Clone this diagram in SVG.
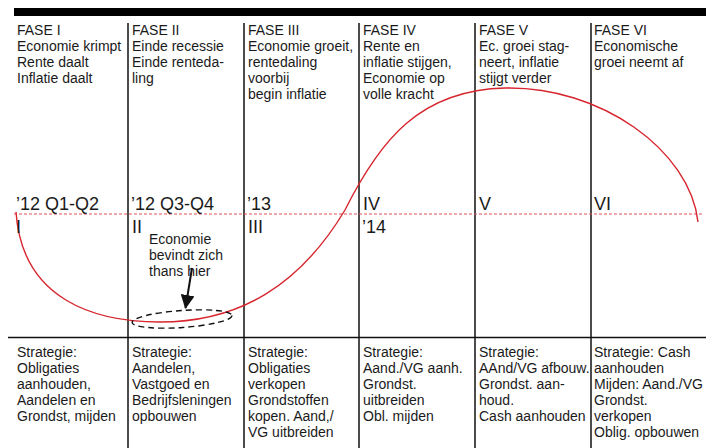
<svg xmlns="http://www.w3.org/2000/svg" width="706" height="448" viewBox="0 0 706 448">
<style>
  text { font-family: "Liberation Sans", Arial, sans-serif; fill: #1a1a1a; }
  .t { font-size: 14px; }
  .big { font-size: 18px; }
  .grid { stroke: #111; stroke-width: 1.5; fill: none; }
  .curve { stroke: #d7262e; stroke-width: 1.4; fill: none; }
  .zero { stroke: #e0505a; stroke-width: 1.2; stroke-dasharray: 3 2; fill: none; }
  .ell { stroke: #111; stroke-width: 1.4; stroke-dasharray: 6 4; fill: none; }
</style>
<defs>
  <marker id="ah" markerWidth="14" markerHeight="14" refX="13" refY="7" orient="auto" markerUnits="userSpaceOnUse" viewBox="0 0 14 14">
    <path d="M0,0 L14,7 L0,14 z" fill="#111"/>
  </marker>
</defs>
<rect width="706" height="448" fill="#fff"/>
<rect x="14" y="8" width="692" height="8" fill="#000"/>
<g id="grid">
  <line class="grid" x1="8" y1="337.5" x2="706" y2="337.5"/>
  <line class="grid" x1="128" y1="23" x2="128" y2="448"/>
  <line class="grid" x1="244" y1="23" x2="244" y2="448"/>
  <line class="grid" x1="359" y1="23" x2="359" y2="448"/>
  <line class="grid" x1="475" y1="23" x2="475" y2="448"/>
  <line class="grid" x1="591" y1="23" x2="591" y2="448"/>
</g>
<line class="zero" x1="14" y1="214" x2="704" y2="214"/>
<path class="curve" d="M16,212 C22,300 95,322 160,322 C240,322 300,285 345,210 C380,140 420,90 505,88 C600,86 690,150 698,222"/>
<g id="phase1">
  <text class="t" x="17" y="35">FASE I</text>
  <text class="t" x="17" y="51">Economie krimpt</text>
  <text class="t" x="17" y="67">Rente daalt</text>
  <text class="t" x="17" y="83">Inflatie daalt</text>
  <text class="big" x="16" y="210">’12 Q1-Q2</text>
  <text class="big" x="16" y="233">I</text>
  <text class="t" x="17" y="357">Strategie:</text>
  <text class="t" x="17" y="373">Obligaties</text>
  <text class="t" x="17" y="389">aanhouden,</text>
  <text class="t" x="17" y="405">Aandelen en</text>
  <text class="t" x="17" y="421">Grondst, mijden</text>
</g>
<g id="phase2">
  <text class="t" x="132" y="35">FASE II</text>
  <text class="t" x="132" y="51">Einde recessie</text>
  <text class="t" x="132" y="67">Einde renteda-</text>
  <text class="t" x="132" y="83">ling</text>
  <text class="big" x="131" y="210">’12 Q3-Q4</text>
  <text class="big" x="132" y="233">II</text>
  <text class="t" x="132" y="357">Strategie:</text>
  <text class="t" x="132" y="373">Aandelen,</text>
  <text class="t" x="132" y="389">Vastgoed en</text>
  <text class="t" x="132" y="405">Bedrijfsleningen</text>
  <text class="t" x="132" y="421">opbouwen</text>
</g>
<g id="phase3">
  <text class="t" x="248" y="35">FASE III</text>
  <text class="t" x="248" y="51">Economie groeit,</text>
  <text class="t" x="248" y="67">rentedaling</text>
  <text class="t" x="248" y="83">voorbij</text>
  <text class="t" x="248" y="99">begin inflatie</text>
  <text class="big" x="247" y="210">’13</text>
  <text class="big" x="248" y="233">III</text>
  <text class="t" x="248" y="357">Strategie:</text>
  <text class="t" x="248" y="373">Obligaties</text>
  <text class="t" x="248" y="389">verkopen</text>
  <text class="t" x="248" y="405">Grondstoffen</text>
  <text class="t" x="248" y="421">kopen. Aand,/</text>
  <text class="t" x="248" y="437">VG uitbreiden</text>
</g>
<g id="phase4">
  <text class="t" x="363" y="35">FASE IV</text>
  <text class="t" x="363" y="51">Rente en</text>
  <text class="t" x="363" y="67">inflatie stijgen,</text>
  <text class="t" x="363" y="83">Economie op</text>
  <text class="t" x="363" y="99">volle kracht</text>
  <text class="big" x="363" y="210">IV</text>
  <text class="big" x="362" y="233">’14</text>
  <text class="t" x="363" y="357">Strategie:</text>
  <text class="t" x="363" y="373">Aand./VG aanh.</text>
  <text class="t" x="363" y="389">Grondst.</text>
  <text class="t" x="363" y="405">uitbreiden</text>
  <text class="t" x="363" y="421">Obl. mijden</text>
</g>
<g id="phase5">
  <text class="t" x="479" y="35">FASE V</text>
  <text class="t" x="479" y="51">Ec. groei stag-</text>
  <text class="t" x="479" y="67">neert, inflatie</text>
  <text class="t" x="479" y="83">stijgt verder</text>
  <text class="big" x="479" y="210">V</text>
  <text class="t" x="479" y="357">Strategie:</text>
  <text class="t" x="479" y="373">AAnd/VG afbouw.</text>
  <text class="t" x="479" y="389">Grondst. aan-</text>
  <text class="t" x="479" y="405">houd.</text>
  <text class="t" x="479" y="421">Cash aanhouden</text>
</g>
<g id="phase6">
  <text class="t" x="594" y="35">FASE VI</text>
  <text class="t" x="594" y="51">Economische</text>
  <text class="t" x="594" y="67">groei neemt af</text>
  <text class="big" x="594" y="210">VI</text>
  <text class="t" x="594" y="357">Strategie: Cash</text>
  <text class="t" x="594" y="373">aanhouden</text>
  <text class="t" x="594" y="389">Mijden: Aand./VG</text>
  <text class="t" x="594" y="405">Grondst.</text>
  <text class="t" x="594" y="421">verkopen</text>
  <text class="t" x="594" y="437">Oblig. opbouwen</text>
</g>
<g id="here">
  <text class="t" x="149" y="244">Economie</text>
  <text class="t" x="149" y="260">bevindt zich</text>
  <text class="t" x="149" y="276">thans hier</text>
  <ellipse class="ell" cx="182" cy="319" rx="50" ry="8.5" transform="rotate(-4 182 319)"/>
</g>
<g id="connectors">
  <line x1="192" y1="268" x2="185.5" y2="308" stroke="#111" stroke-width="2" marker-end="url(#ah)"/>
</g>
</svg>
